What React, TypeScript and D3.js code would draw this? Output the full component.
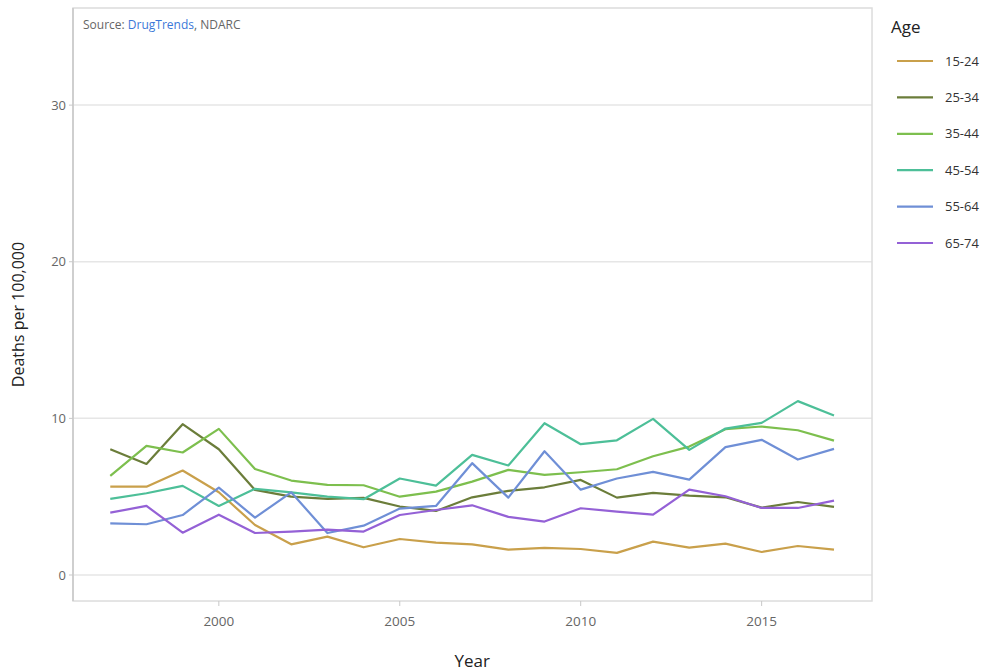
import * as d3 from "d3";
import { useEffect, useRef } from "react";

const years = d3.range(1997, 2018);
const ageGroups = ["15-24", "25-34", "35-44", "45-54", "55-64", "65-74"];
const colors = ["#c9a04b", "#6b7d3a", "#7dbf4e", "#4dbf98", "#6f8fd6", "#9461d6"];

const age15to24 = [5.64, 5.64, 6.67, 5.28, 3.19, 1.96, 2.45, 1.77, 2.3, 2.07, 1.96, 1.62, 1.73, 1.66, 1.41, 2.13, 1.75, 2.0, 1.47, 1.85, 1.62];
const age25to34 = [8.03, 7.09, 9.63, 8.03, 5.43, 5.0, 4.86, 4.92, 4.37, 4.09, 4.96, 5.37, 5.6, 6.07, 4.94, 5.24, 5.07, 4.96, 4.3, 4.66, 4.35];
const age35to44 = [6.33, 8.24, 7.82, 9.33, 6.77, 6.03, 5.75, 5.73, 5.0, 5.32, 5.96, 6.71, 6.39, 6.56, 6.75, 7.58, 8.2, 9.31, 9.48, 9.24, 8.58];
const age45to54 = [4.86, 5.22, 5.69, 4.41, 5.5, 5.28, 5.0, 4.84, 6.16, 5.71, 7.67, 6.99, 9.69, 8.35, 8.6, 9.97, 7.99, 9.35, 9.71, 11.1, 10.18];
const age55to64 = [3.3, 3.24, 3.83, 5.58, 3.66, 5.28, 2.68, 3.15, 4.24, 4.41, 7.14, 4.94, 7.9, 5.45, 6.16, 6.58, 6.09, 8.16, 8.63, 7.37, 8.05];
const age65to74 = [3.98, 4.41, 2.7, 3.85, 2.68, 2.77, 2.9, 2.77, 3.83, 4.15, 4.45, 3.71, 3.41, 4.26, 4.05, 3.85, 5.45, 5.03, 4.28, 4.28, 4.75];

const seriesValues = [age15to24, age25to34, age35to44, age45to54, age55to64, age65to74];
const xTicks = [2000, 2005, 2010, 2015];
const yTicks = [0, 10, 20, 30];

const width = 983;
const height = 672;
const margin = { top: 8, right: 111, bottom: 71, left: 73 };

export default function App() {
  const ref = useRef<SVGSVGElement>(null);

  useEffect(() => {
    const svg = d3.select(ref.current);
    svg.selectAll("*").remove();

    const x = d3
      .scaleLinear()
      .domain([1995.97, 2018.05])
      .range([margin.left, width - margin.right]);
    const y = d3
      .scaleLinear()
      .domain([-1.66, 36.2])
      .range([height - margin.bottom, margin.top]);

    const font = "'Open Sans', sans-serif";
    const plotW = width - margin.right - margin.left;
    const plotH = height - margin.bottom - margin.top;

    // grid
    svg
      .append("g")
      .selectAll("line")
      .data(yTicks)
      .enter()
      .append("line")
      .attr("x1", margin.left)
      .attr("x2", width - margin.right)
      .attr("y1", (d) => y(d))
      .attr("y2", (d) => y(d))
      .attr("stroke", "#e6e6e6")
      .attr("stroke-width", 1.5);

    // frame
    svg
      .append("rect")
      .attr("x", margin.left)
      .attr("y", margin.top)
      .attr("width", plotW)
      .attr("height", plotH)
      .attr("fill", "none")
      .attr("stroke", "#dcdcdc")
      .attr("stroke-width", 1.5);

    svg
      .append("line")
      .attr("x1", margin.left)
      .attr("x2", margin.left)
      .attr("y1", margin.top)
      .attr("y2", height - margin.bottom)
      .attr("stroke", "#c8c8c8")
      .attr("stroke-width", 1.5);

    // y ticks
    const yAxis = svg.append("g");
    yAxis
      .selectAll("line")
      .data(yTicks)
      .enter()
      .append("line")
      .attr("x1", margin.left - 4)
      .attr("x2", margin.left)
      .attr("y1", (d) => y(d))
      .attr("y2", (d) => y(d))
      .attr("stroke", "#c8c8c8");
    yAxis
      .selectAll("text")
      .data(yTicks)
      .enter()
      .append("text")
      .attr("x", margin.left - 7)
      .attr("y", (d) => y(d))
      .attr("dy", "0.35em")
      .attr("text-anchor", "end")
      .attr("font-family", font)
      .attr("font-size", 13)
      .attr("fill", "#666")
      .text((d) => d);

    // x ticks
    const xAxis = svg.append("g");
    xAxis
      .selectAll("line")
      .data(xTicks)
      .enter()
      .append("line")
      .attr("x1", (d) => x(d))
      .attr("x2", (d) => x(d))
      .attr("y1", height - margin.bottom)
      .attr("y2", height - margin.bottom + 5)
      .attr("stroke", "#c8c8c8");
    xAxis
      .selectAll("text")
      .data(xTicks)
      .enter()
      .append("text")
      .attr("x", (d) => x(d))
      .attr("y", height - margin.bottom + 25)
      .attr("text-anchor", "middle")
      .attr("font-family", font)
      .attr("font-size", 13.5)
      .attr("fill", "#666")
      .text((d) => d);

    // axis titles
    svg
      .append("text")
      .attr("x", x(2007))
      .attr("y", height - 5)
      .attr("text-anchor", "middle")
      .attr("font-family", font)
      .attr("font-size", 17)
      .attr("fill", "#222")
      .text("Year");

    svg
      .append("text")
      .attr("transform", `translate(24,${margin.top + plotH / 2 + 10}) rotate(-90)`)
      .attr("text-anchor", "middle")
      .attr("font-family", font)
      .attr("font-size", 16)
      .attr("fill", "#222")
      .text("Deaths per 100,000");

    // source
    const src = svg
      .append("text")
      .attr("x", margin.left + 10)
      .attr("y", margin.top + 21)
      .attr("font-family", font)
      .attr("font-size", 12)
      .attr("fill", "#666");
    src.append("tspan").text("Source: ");
    src.append("tspan").attr("fill", "#3b78d8").text("DrugTrends");
    src.append("tspan").text(", NDARC");

    // lines
    const line = d3
      .line<number>()
      .x((_, i) => x(years[i]))
      .y((d) => y(d));

    svg
      .append("g")
      .selectAll("path")
      .data(seriesValues)
      .enter()
      .append("path")
      .attr("d", (d) => line(d))
      .attr("fill", "none")
      .attr("stroke", (_, i) => colors[i])
      .attr("stroke-width", 2.2)
      .attr("stroke-linejoin", "round");

    // legend
    const lx = width - margin.right + 19;
    svg
      .append("text")
      .attr("x", lx)
      .attr("y", 33)
      .attr("font-family", font)
      .attr("font-size", 17)
      .attr("fill", "#222")
      .text("Age");

    const items = svg
      .append("g")
      .selectAll("g")
      .data(ageGroups)
      .enter()
      .append("g")
      .attr("transform", (_, i) => `translate(${lx + 6},${61 + i * 36.4})`);
    items
      .append("line")
      .attr("x1", 0)
      .attr("x2", 36)
      .attr("stroke", (_, i) => colors[i])
      .attr("stroke-width", 2.2);
    items
      .append("text")
      .attr("x", 48)
      .attr("dy", "0.35em")
      .attr("font-family", font)
      .attr("font-size", 13)
      .attr("fill", "#333")
      .text((d) => d);
  }, []);

  return (
    <svg
      ref={ref}
      width={width}
      height={height}
      style={{ position: "absolute", left: 0, top: 0, background: "#fff" }}
    />
  );
}
